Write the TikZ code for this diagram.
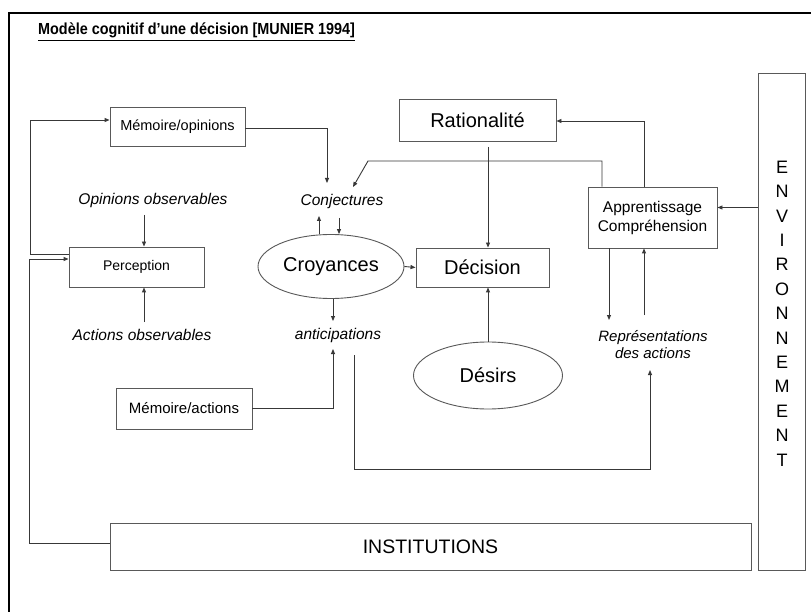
\documentclass[tikz,border=0pt]{standalone}
\usepackage{fontspec}
\usepackage{graphicx}
\setmainfont{Liberation Sans}
\usetikzlibrary{arrows.meta,shapes.geometric,calc}
\newcommand{\fsz}[1]{\fontsize{#1}{#1}\selectfont}
\begin{document}
\begin{tikzpicture}[x=1pt,y=-1pt,
  box/.style={draw=black!65,line width=0.9pt,inner sep=0pt,rectangle},
  oval/.style={draw=black!65,line width=0.9pt,ellipse,inner sep=0pt},
  lbl/.style={inner sep=0pt,font=\itshape\fsz{15.5}},
  arr/.style={draw=black!78,line width=0.9pt,-{Triangle[length=5pt,width=4pt]}}]
\useasboundingbox (0,0) rectangle (811,612);
\fill[white] (0,0) rectangle (811,612);
\draw[line width=2pt] (811,13) -- (9,13) -- (9,612);

\node[anchor=base west,inner sep=0pt,font=\bfseries\fsz{16}] (title) at (38,35) {\scalebox{0.9}[1]{\underline{Modèle cognitif d’une décision [MUNIER 1994]}}};

\node[box,minimum width=135pt,minimum height=39pt,font=\fsz{14.5}] (memop) at (177.5,126.5) {Mémoire/opinions};
\node[box,minimum width=135pt,minimum height=40pt,font=\fsz{14}] (percep) at (136.5,267) {Perception};
\node[lbl] (opobs) at (153,200) {Opinions observables};
\node[lbl] (acobs) at (142,335) {Actions observables};
\node[lbl] (conj) at (342,201) {Conjectures};
\node[oval,minimum width=146pt,minimum height=64pt,font=\fsz{20}] (croy) at (331,266.5) {Croyances};
\node[lbl] (antic) at (338,335) {anticipations};
\node[box,minimum width=136pt,minimum height=41pt,font=\fsz{15}] (memact) at (184,408.5) {Mémoire/actions};
\node[box,minimum width=157pt,minimum height=42pt,font=\fsz{20}] (ratio) at (477.5,120) {Rationalité};
\node[box,minimum width=133pt,minimum height=39pt,font=\fsz{20}] (decis) at (482.5,267.5) {Décision};
\node[oval,minimum width=149pt,minimum height=67pt,font=\fsz{20}] (desirs) at (488,375.5) {Désirs};
\node[box,minimum width=129pt,minimum height=61pt,align=center,font=\fontsize{15.5}{19}\selectfont] (appr) at (652.5,217.5) {Apprentissage\\Compréhension};
\node[inner sep=0pt,align=center,font=\itshape\fontsize{15}{17}\selectfont] (repr) at (653,345) {Représentations\\des actions};
\node[box,minimum width=641pt,minimum height=47pt,font=\fsz{19.5}] (inst) at (430.5,546.5) {INSTITUTIONS};
\node[box,minimum width=47pt,minimum height=497pt] (env) at (781.5,321.5) {};
\node[inner sep=0pt,align=center,font=\fontsize{18}{24.4}\selectfont] (envtxt) at (782,313.5) {E\\N\\V\\I\\R\\O\\N\\N\\E\\M\\E\\N\\T};

\coordinate (c1) at (327,183);
\draw[arr] ([yshift=-1.5pt]memop.east) -| (c1);
\coordinate (k1) at (368,161);
\coordinate (c2) at (353,187);
\draw[arr] ([xshift=-50.5pt]appr.north) |- (k1) -- (c2);
\draw[arr] ([xshift=-8.5pt]appr.north) |- ([yshift=-1pt]ratio.east);
\coordinate (e1) at ([yshift=10pt]appr.east);
\draw[arr] (env.west |- e1) -- (e1);
\coordinate (r1) at (609,320);
\draw[arr] (appr.south -| r1) -- (r1);
\coordinate (r2) at (644,315);
\draw[arr] (r2) -- (appr.south -| r2);
\coordinate (a2) at (354,355);
\coordinate (b1) at (354,469);
\coordinate (r3) at (650,370);
\draw[arr] (a2) -- (b1) -| (r3);
\coordinate (a3) at (333,349);
\draw[arr] (memact.east) -| (a3);
\coordinate (a4) at (333,321);
\draw[arr] (croy.south -| a4) -- (a4);
\coordinate (c3) at (319,216);
\draw[arr] (croy.north -| c3) -- (c3);
\coordinate (c4) at (339,218);
\draw[arr] (c4) -- (croy.north -| c4);
\draw[arr] (croy.east) -- (decis.west);
\coordinate (d0) at (488,147);
\draw[arr] (d0) -- (decis.north -| d0);
\draw[arr] (desirs.north) -- (decis.south -| desirs.north);
\coordinate (p1) at (144,215);
\draw[arr] (p1) -- (percep.north -| p1);
\coordinate (p2) at (144,322);
\draw[arr] (p2) -- (percep.south -| p2);
\coordinate (l1) at (30,254);
\coordinate (m1) at (30,120);
\draw[arr] (percep.west |- l1) -- (l1) -- (m1) -- (memop.west |- m1);
\coordinate (l2) at (29,543);
\coordinate (l3) at (29,259);
\draw[arr] (inst.west |- l2) -- (l2) -- (l3) -- (percep.west |- l3);
\end{tikzpicture}
\end{document}
